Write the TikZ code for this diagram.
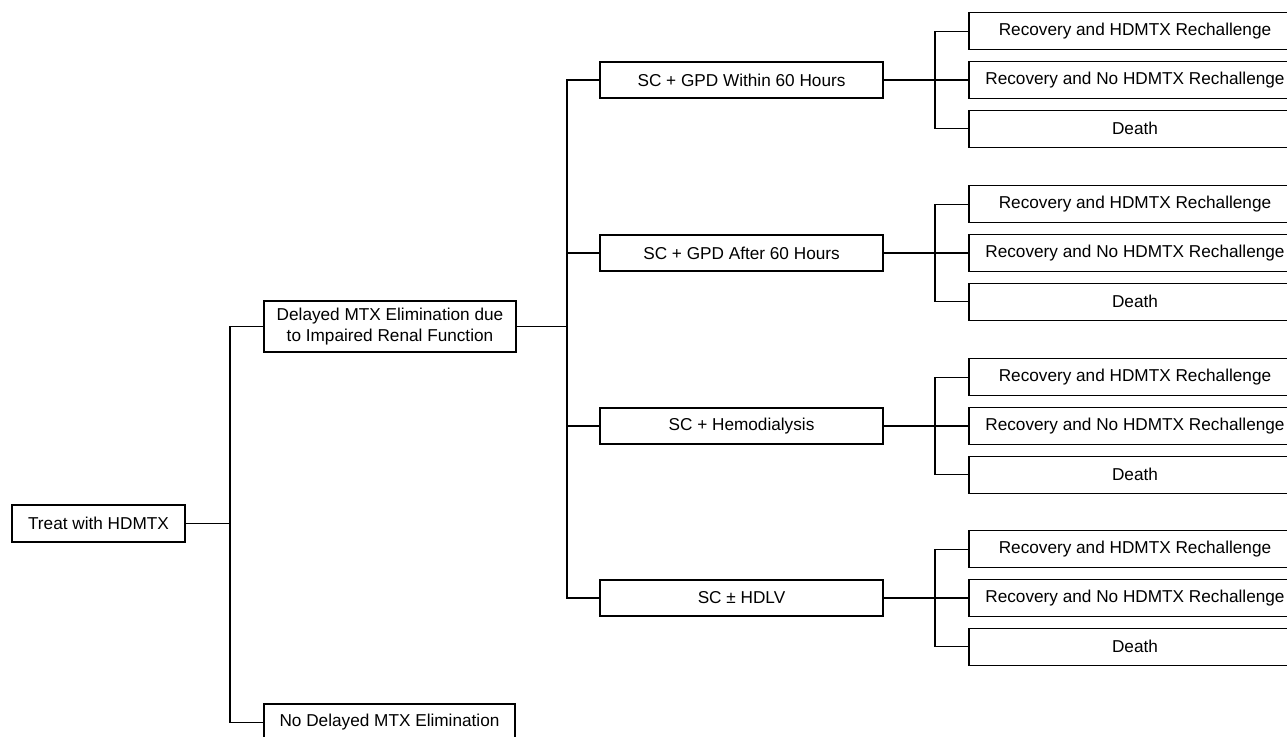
\documentclass[tikz,border=0pt]{standalone}
\usepackage{fontspec}
\setmainfont{Liberation Sans}

\tikzset{
  box/.style={draw, line width=0.65pt, inner sep=2pt, outer sep=0pt,
    align=center, font=\fontsize{8.6}{10.5}\selectfont},
  link/.style={line width=0.65pt},
}

\begin{document}
\begin{tikzpicture}[x=0.5pt, y=-0.5pt]
  \clip (0,0) rectangle (1287,736);
  % root and first split
  \node[box, minimum width=86.5pt, minimum height=18.5pt] (treat) at (98.5,523.5) {Treat with HDMTX};
  \node[box, minimum width=126pt, minimum height=25.5pt] (delayed) at (390,326.5)
    {Delayed MTX Elimination due\\to Impaired Renal Function};
  \node[box, minimum width=125.5pt, minimum height=18.5pt] (nodelay) at (389.5,722.5) {No Delayed MTX Elimination};
  \coordinate (t1) at (230,523.5);
  \draw[link] (treat) -- (t1);
  \draw[link] (t1) |- (delayed);
  \draw[link] (t1) |- (nodelay);
  % treatment options
  \node[box, minimum width=141.5pt, minimum height=18pt] (sc-a) at (741.5,80) {SC + GPD Within 60 Hours};
  \node[box, minimum width=141.5pt, minimum height=18pt] (sc-b) at (741.5,253) {SC + GPD After 60 Hours};
  \node[box, minimum width=141.5pt, minimum height=18pt] (sc-c) at (741.5,426) {SC + Hemodialysis};
  \node[box, minimum width=141.5pt, minimum height=18pt] (sc-d) at (741.5,598) {SC ± HDLV};
  \coordinate (t2) at (567,326.5);
  \draw[link] (delayed) -- (t2);
  \foreach \g in {a,b,c,d}
    \draw[link] (t2) |- (sc-\g);
  % outcomes
  \foreach \g/\y in {a/80, b/253, c/426, d/598} {
    \node[box, minimum width=166pt, minimum height=18.5pt] (out-\g-1) at (1135,\y-48.7) {Recovery and HDMTX Rechallenge};
    \node[box, minimum width=166pt, minimum height=18.5pt] (out-\g-2) at (1135,\y) {Recovery and No HDMTX Rechallenge};
    \node[box, minimum width=166pt, minimum height=18.5pt] (out-\g-3) at (1135,\y+48.7) {Death};
    \coordinate (t-\g) at (935,\y);
    \draw[link] (sc-\g) -- (out-\g-2);
    \draw[link] (t-\g) |- (out-\g-1);
    \draw[link] (t-\g) |- (out-\g-3);
  }
\end{tikzpicture}
\end{document}
